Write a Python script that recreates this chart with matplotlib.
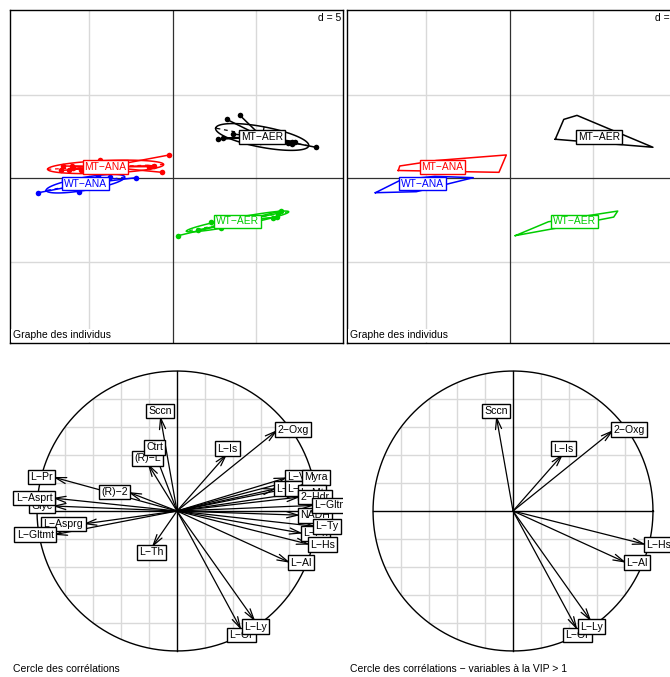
import numpy as np
import matplotlib
matplotlib.use('Agg')
import matplotlib.pyplot as plt

plt.rcParams['font.family'] = ['Liberation Sans', 'DejaVu Sans']

M = '\u2212'

# individual scores on axes 1 and 2, one array pair per group
groups = ['MT' + M + 'AER', 'MT' + M + 'ANA', 'WT' + M + 'AER', 'WT' + M + 'ANA']
colours = ['black', 'red', '#00cd00', 'blue']

mt_aer_x = [3.22, 4.01, 2.71, 3.59, 6.90, 7.11, 7.31, 7.13, 8.56, 3.00, 5.00, 5.60, 5.30]
mt_aer_y = [3.51, 3.75, 2.32, 2.63, 2.11, 2.17, 2.17, 2.04, 1.84, 2.40, 2.30, 2.30, 2.40]
mt_ana_x = [-0.22, -0.66, -1.14, -1.46, -6.60, -6.07, -5.97, -4.40, -6.69, -5.50, -6.20, -4.00, -3.50]
mt_ana_y = [1.38, 0.34, 0.74, 0.68, 0.72, 0.72, 0.58, 1.05, 0.45, 0.45, 0.50, 0.55, 0.50]
wt_aer_x = [0.32, 1.51, 2.30, 2.90, 6.45, 6.21, 6.01, 6.27, 2.60, 3.80, 4.20]
wt_aer_y = [-3.45, -3.11, -2.62, -2.98, -1.98, -2.34, -2.37, -2.12, -2.70, -2.50, -2.45]
wt_ana_x = [-8.06, -2.20, -5.91, -5.61, -5.57, -6.50, -4.50, -3.80, -5.00]
wt_ana_y = [-0.88, 0.02, -0.62, -0.82, -0.62, -0.10, 0.10, 0.05, -0.20]

group_x = [mt_aer_x, mt_ana_x, wt_aer_x, wt_ana_x]
group_y = [mt_aer_y, mt_ana_y, wt_aer_y, wt_ana_y]

# correlations of the variables with axes 1 and 2, and VIP > 1 flag
var_names = ['L' + M + 'Pr', 'Glyc', 'L' + M + 'Asprt', 'L' + M + 'Asprg', 'L' + M + 'Gltmt',
             '(R)' + M + '2', '(R)' + M + 'L', 'Ctrt', 'Sccn', 'L' + M + 'Th', 'L' + M + 'Is',
             '2' + M + 'Oxg', 'L' + M + 'Vl', 'L' + M + 'Lc', 'L' + M + 'Sr', 'Myra', 'L' + M + 'Mt',
             '2' + M + 'Hdr', 'NADH', 'L' + M + 'Gltm', 'L' + M + 'Ph', 'L' + M + 'Ty',
             'L' + M + 'Hs', 'L' + M + 'Al', 'L' + M + 'Or', 'L' + M + 'Ly']
var_x = [-0.886, -0.89, -0.89, -0.67, -0.88, -0.35, -0.21, -0.16, -0.12, -0.18, 0.36,
         0.72, 0.79, 0.71, 0.79, 0.91, 0.88, 0.88, 0.88, 0.98, 0.90, 0.99,
         0.95, 0.81, 0.46, 0.56]
var_y = [0.243, 0.036, 0.093, -0.093, -0.17, 0.136, 0.34, 0.42, 0.68, -0.26, 0.41,
         0.58, 0.24, 0.16, 0.16, 0.24, 0.13, 0.10, -0.03, 0.04, -0.16, -0.11,
         -0.24, -0.37, -0.85, -0.79]
var_vip = [False, False, False, False, False, False, False, False, True, False, True,
           True, False, False, False, False, False, False, False, False, False, False,
           True, True, True, True]

W, H = 670, 677
fig = plt.figure(figsize=(W / 100, H / 100), dpi=100)


def px_axes(x0, y0, x1, y1):
    return fig.add_axes([x0 / W, 1 - y1 / H, (x1 - x0) / W, (y1 - y0) / H])


def chull(px, py):
    pts = sorted(set(zip(px, py)))

    def cross(o, a, b):
        return (a[0] - o[0]) * (b[1] - o[1]) - (a[1] - o[1]) * (b[0] - o[0])
    lower, upper = [], []
    for p in pts:
        while len(lower) >= 2 and cross(lower[-2], lower[-1], p) <= 0:
            lower.pop()
        lower.append(p)
    for p in reversed(pts):
        while len(upper) >= 2 and cross(upper[-2], upper[-1], p) <= 0:
            upper.pop()
        upper.append(p)
    h = lower[:-1] + upper[:-1]
    h.append(h[0])
    return np.array(h)


def ellipse(px, py, coeff=1.5):
    xy = np.column_stack([px, py])
    c = xy.mean(axis=0)
    d = xy - c
    cov = d.T @ d / len(xy)
    vals, vecs = np.linalg.eigh(cov)
    a = coeff * np.sqrt(vals[1])
    b = coeff * np.sqrt(vals[0])
    t = np.linspace(0, 2 * np.pi, 120)
    curve = c + np.outer(a * np.cos(t), vecs[:, 1]) + np.outer(b * np.sin(t), vecs[:, 0])
    seg1 = np.array([c - a * vecs[:, 1], c + a * vecs[:, 1]])
    seg2 = np.array([c - b * vecs[:, 0], c + b * vecs[:, 0]])
    return c, curve, seg1, seg2


def class_frame(ax):
    ax.set_xlim(-9.76, 10.18)
    ax.set_ylim(-9.88, 10.06)
    ax.set_xticks([])
    ax.set_yticks([])
    for v in (-5, 5):
        ax.axvline(v, color='#d9d9d9', lw=1, zorder=0)
        ax.axhline(v, color='#d9d9d9', lw=1, zorder=0)
    ax.axvline(0, color='#303030', lw=0.9, zorder=1)
    ax.axhline(0, color='#303030', lw=0.9, zorder=1)
    for s in ax.spines.values():
        s.set_linewidth(1)
    ax.text(0.994, 0.992, 'd = 5', transform=ax.transAxes, ha='right', va='top',
            fontsize=7.5, bbox=dict(boxstyle='square,pad=0.1', fc='white', ec='none'))
    ax.text(0.008, 0.008, 'Graphe des individus', transform=ax.transAxes, ha='left',
            va='bottom', fontsize=7.5, bbox=dict(boxstyle='square,pad=0.15', fc='white', ec='none'),
            zorder=5)


def class_label(ax, c, name, col):
    ax.text(c[0], c[1], name, ha='center', va='center', fontsize=7.4, color=col,
            bbox=dict(boxstyle='square,pad=0.16', fc='white', ec=col, lw=1), zorder=6)


# individuals: stars and ellipses
ax1 = px_axes(10, 10, 343, 343)
class_frame(ax1)
centres = []
for gx, gy, col in zip(group_x, group_y, colours):
    c, curve, s1, s2 = ellipse(gx, gy)
    centres.append(c)
    for x, y in zip(gx, gy):
        ax1.plot([c[0], x], [c[1], y], color=col, lw=1.1, zorder=3)
    ax1.plot(curve[:, 0], curve[:, 1], color=col, lw=1.1, zorder=3)
    ax1.plot(s1[:, 0], s1[:, 1], color=col, lw=0.9, ls=(0, (3, 3)), zorder=3)
    ax1.plot(s2[:, 0], s2[:, 1], color=col, lw=0.9, ls=(0, (3, 3)), zorder=3)
    ax1.plot(gx, gy, 'o', color=col, ms=4, mec='none', zorder=4)
for c, name, col in zip(centres, groups, colours):
    class_label(ax1, c, name, col)

# individuals: convex hulls
ax2 = px_axes(347, 10, 680, 343)
class_frame(ax2)
for gx, gy, col in zip(group_x, group_y, colours):
    h = chull(gx, gy)
    ax2.plot(h[:, 0], h[:, 1], color=col, lw=1.1, zorder=3)
for c, name, col in zip(centres, groups, colours):
    class_label(ax2, c, name, col)


def corcircle(ax, keep, title):
    ax.set_aspect('equal')
    ax.set_xticks([])
    ax.set_yticks([])
    for s in ax.spines.values():
        s.set_visible(False)
    for v in np.arange(-0.8, 0.81, 0.2):
        if abs(v) < 1e-9:
            continue
        h = np.sqrt(1 - v ** 2)
        ax.plot([v, v], [-h, h], color='#d9d9d9', lw=1, zorder=0)
        ax.plot([-h, h], [v, v], color='#d9d9d9', lw=1, zorder=0)
    ax.plot([-1, 1], [0, 0], color='black', lw=1, zorder=1)
    ax.plot([0, 0], [-1, 1], color='black', lw=1, zorder=1)
    t = np.linspace(0, 2 * np.pi, 300)
    ax.plot(np.cos(t), np.sin(t), color='black', lw=1, zorder=1)
    idx = [i for i in range(len(var_names)) if keep[i]]
    for i in idx:
        ax.annotate('', xy=(var_x[i], var_y[i]), xytext=(0, 0),
                    arrowprops=dict(arrowstyle='->,head_length=0.8,head_width=0.22',
                                    color='black', lw=0.9, shrinkA=0, shrinkB=0), zorder=2)
    for i in idx:
        x, y = var_x[i], var_y[i]
        if x > y and x > -y:
            ha, va = 'left', 'center'
        elif x > y and x <= -y:
            ha, va = 'center', 'top'
        elif x <= y and x <= -y:
            ha, va = 'right', 'center'
        else:
            ha, va = 'center', 'bottom'
        ax.text(x, y, var_names[i], ha=ha, va=va, fontsize=7.6, clip_on=True,
                bbox=dict(boxstyle='square,pad=0.22', fc='white', ec='black', lw=1), zorder=3)
    ax.text(0.01, 0.008, title, transform=ax.transAxes, ha='left', va='bottom', fontsize=7.5)


ax3 = px_axes(10, 345, 343, 677)
ax3.set_xlim(-1.193, 1.186)
ax3.set_ylim(-1.186, 1.186)
corcircle(ax3, [True] * len(var_names), 'Cercle des corrélations')

ax4 = px_axes(347, 345, 680, 677)
ax4.set_xlim(-1.186, 1.193)
ax4.set_ylim(-1.186, 1.186)
corcircle(ax4, var_vip, 'Cercle des corrélations ' + M + ' variables à la VIP > 1')

fig.savefig('out.png', dpi=100)
